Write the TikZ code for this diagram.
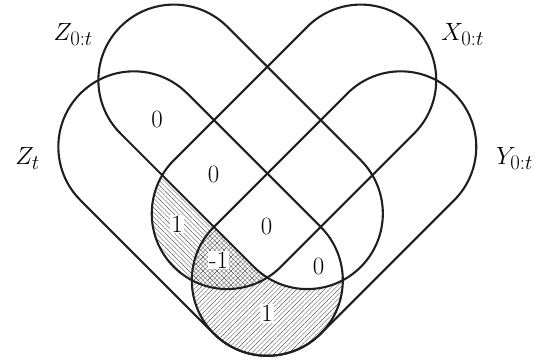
\documentclass[tikz,border=0pt]{standalone}
\usetikzlibrary{patterns.meta}
\begin{document}
\begin{tikzpicture}[x=1pt,y=1pt,
  outline/.style={line width=2.1pt, black!88},
  num/.style={font=\Huge, fill=white, inner sep=1pt},
  setlabel/.style={font=\Huge, inner sep=0pt},
  hatchA/.style={pattern={Lines[angle=-45,distance=3.3pt,line width=0.45pt]}, pattern color=black!65},
  hatchB/.style={pattern={Lines[angle=45,distance=3.3pt,line width=0.45pt]}, pattern color=black!65},
  pZt/.style={insert path={(-2.5*\R,-\R) -- (0,-\R) arc[start angle=-90,end angle=90,radius=\R] -- (-2.5*\R,\R) arc[start angle=90,end angle=270,radius=\R] -- cycle}},
  pZo/.style={insert path={(-2.75*\R,0) -- (-0.25*\R,0) arc[start angle=-90,end angle=90,radius=\R] -- (-2.75*\R,2*\R) arc[start angle=90,end angle=270,radius=\R] -- cycle}},
  pY/.style={insert path={(\R,0) -- (\R,2.5*\R) arc[start angle=0,end angle=180,radius=\R] -- (-\R,0) arc[start angle=180,end angle=360,radius=\R] -- cycle}},
  pX/.style={insert path={(0,0.25*\R) -- (0,2.75*\R) arc[start angle=0,end angle=180,radius=\R] -- (-2*\R,0.25*\R) arc[start angle=180,end angle=360,radius=\R] -- cycle}}
]
\def\R{75.5}
\useasboundingbox (0,0) rectangle (544,362);
\begin{scope}[shift={(267.3,81.7)}, rotate=-45]
  % Z_t and X, outside Z_{0:t}
  \begin{scope}
    \clip[pZt];
    \clip[pX];
    \fill[hatchA, even odd rule] (-6*\R,-6*\R) rectangle (6*\R,6*\R) [pZo];
  \end{scope}
  % Z_t and Y, outside Z_{0:t}
  \begin{scope}
    \clip[pZt];
    \clip[pY];
    \fill[hatchB, even odd rule] (-6*\R,-6*\R) rectangle (6*\R,6*\R) [pZo];
  \end{scope}
  \draw[outline] [pZt];
  \draw[outline] [pZo];
  \draw[outline] [pY];
  \draw[outline] [pX];
\end{scope}
% numbers
\node[num] (n1) at (157,243) {0};
\node[num] (n2) at (213.5,188) {0};
\node[num] (n3) at (177,138) {1};
\node[num] (n4) at (266.5,136) {0};
\node[num] (n5) at (218.5,102) {-1};
\node[num] (n6) at (318.5,95.5) {0};
\node[num] (n7) at (267,48.5) {1};
% set labels
\node[setlabel, anchor=base east] (lZo) at (93,321) {$Z_{0:t}$};
\node[setlabel, anchor=base west] (lX) at (441,321) {$X_{0:t}$};
\node[setlabel, anchor=base east] (lZt) at (40,197) {$Z_t$};
\node[setlabel, anchor=base west] (lY) at (496,197) {$Y_{0:t}$};
\end{tikzpicture}
\end{document}
